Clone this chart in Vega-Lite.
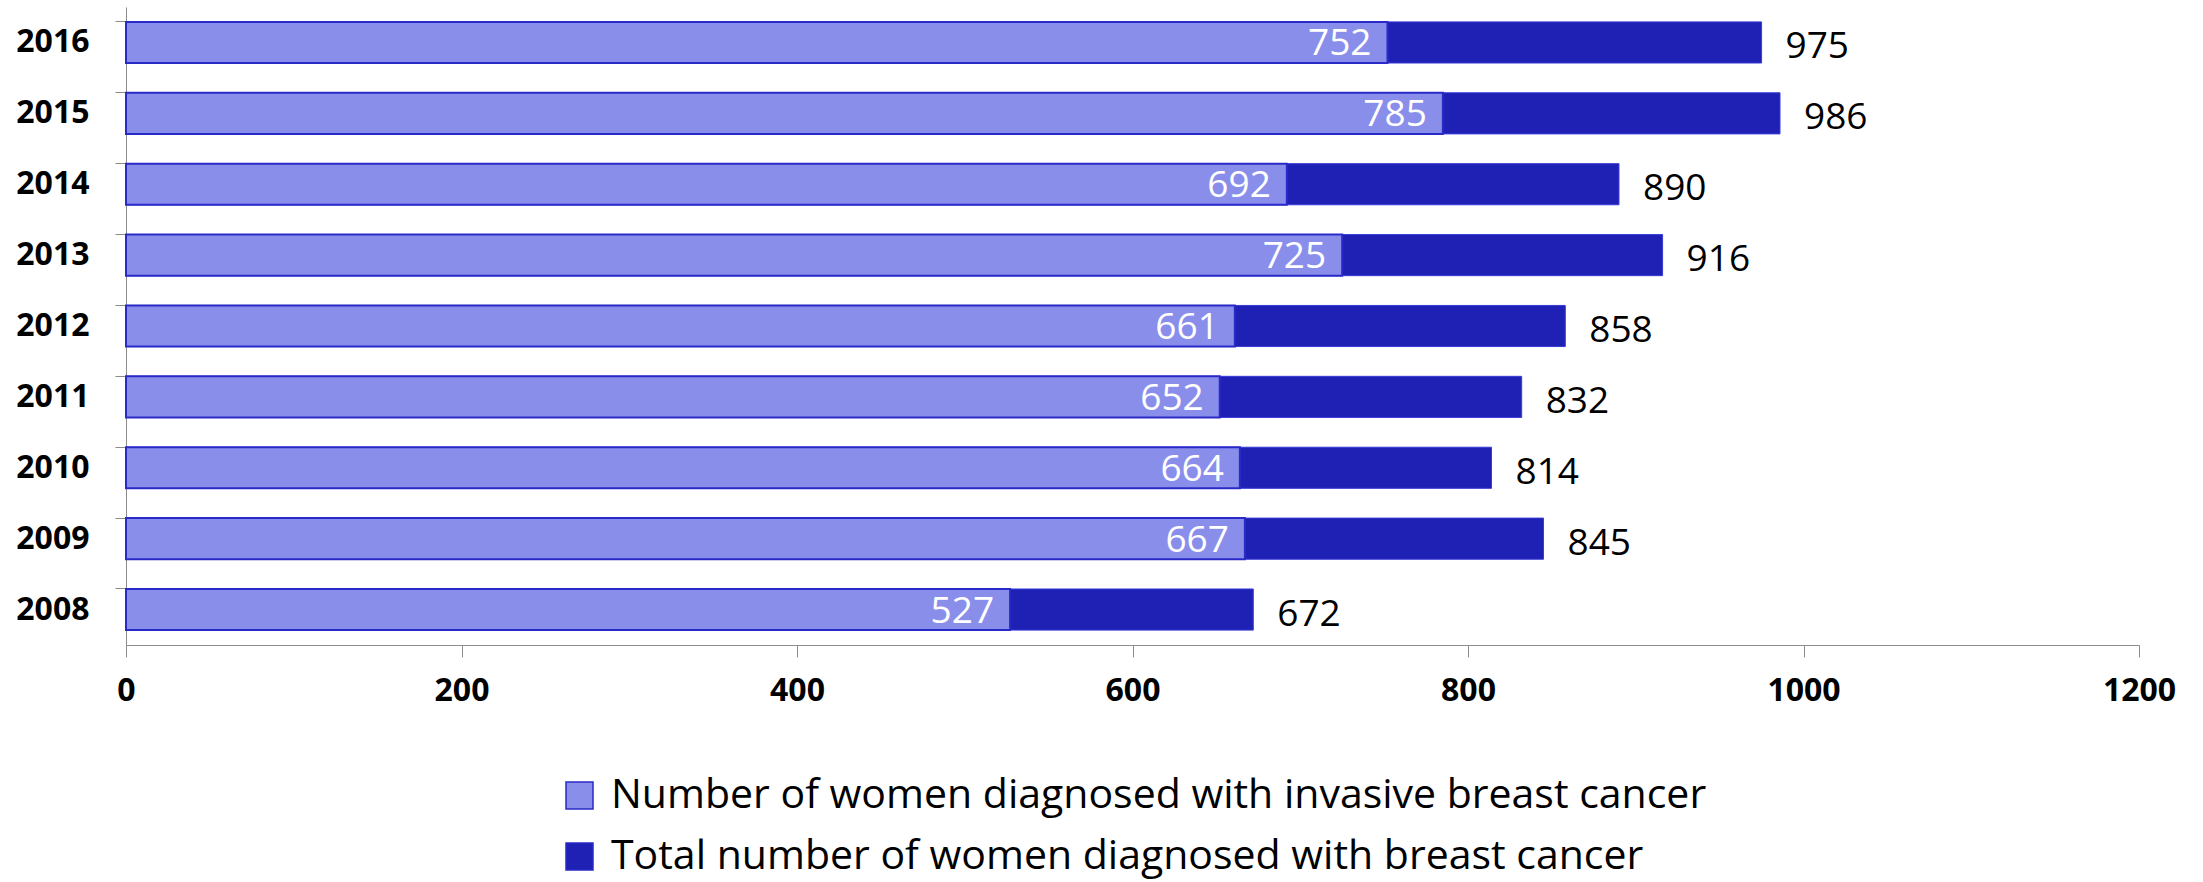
{
  "$schema": "https://vega.github.io/schema/vega-lite/v6.json",
  "width": 2013,
  "height": 638,
  "autosize": "none",
  "padding": {"left": 126, "top": 7, "right": 64, "bottom": 237},
  "background": "white",
  "config": {"view": {"stroke": null}, "font": "Open Sans"},
  "data": {
    "values": [
      {"year": "2016", "series": "Total number of women diagnosed with breast cancer", "value": 975},
      {"year": "2015", "series": "Total number of women diagnosed with breast cancer", "value": 986},
      {"year": "2014", "series": "Total number of women diagnosed with breast cancer", "value": 890},
      {"year": "2013", "series": "Total number of women diagnosed with breast cancer", "value": 916},
      {"year": "2012", "series": "Total number of women diagnosed with breast cancer", "value": 858},
      {"year": "2011", "series": "Total number of women diagnosed with breast cancer", "value": 832},
      {"year": "2010", "series": "Total number of women diagnosed with breast cancer", "value": 814},
      {"year": "2009", "series": "Total number of women diagnosed with breast cancer", "value": 845},
      {"year": "2008", "series": "Total number of women diagnosed with breast cancer", "value": 672},
      {"year": "2016", "series": "Number of women diagnosed with invasive breast cancer", "value": 752},
      {"year": "2015", "series": "Number of women diagnosed with invasive breast cancer", "value": 785},
      {"year": "2014", "series": "Number of women diagnosed with invasive breast cancer", "value": 692},
      {"year": "2013", "series": "Number of women diagnosed with invasive breast cancer", "value": 725},
      {"year": "2012", "series": "Number of women diagnosed with invasive breast cancer", "value": 661},
      {"year": "2011", "series": "Number of women diagnosed with invasive breast cancer", "value": 652},
      {"year": "2010", "series": "Number of women diagnosed with invasive breast cancer", "value": 664},
      {"year": "2009", "series": "Number of women diagnosed with invasive breast cancer", "value": 667},
      {"year": "2008", "series": "Number of women diagnosed with invasive breast cancer", "value": 527}
    ]
  },
  "encoding": {
    "y": {
      "field": "year", "type": "ordinal", "sort": "descending",
      "scale": {"paddingInner": 0.42, "paddingOuter": 0.21},
      "axis": {
        "title": null, "bandPosition": 0, "domainColor": "#8c8c8c", "tickColor": "#8c8c8c",
        "tickSize": 11, "labelPadding": 26, "labelFont": "Open Sans", "labelFontSize": 32,
        "labelFontWeight": "bold", "labelColor": "black"
      }
    },
    "x": {
      "field": "value", "type": "quantitative",
      "scale": {"domain": [0, 1200], "nice": false},
      "axis": {
        "title": null, "values": [0, 200, 400, 600, 800, 1000, 1200], "format": "d", "grid": false,
        "domainColor": "#8c8c8c", "tickColor": "#8c8c8c", "tickSize": 12, "labelPadding": 18,
        "labelFont": "Open Sans", "labelFontSize": 32, "labelFontWeight": "bold", "labelColor": "black",
        "labelFlush": false
      }
    }
  },
  "layer": [
    {
      "transform": [{"filter": "datum.series === 'Total number of women diagnosed with breast cancer'"}],
      "mark": {"type": "bar", "stroke": "#3a3ad8", "strokeWidth": 1},
      "encoding": {
        "color": {
          "field": "series", "type": "nominal",
          "scale": {
            "domain": ["Number of women diagnosed with invasive breast cancer", "Total number of women diagnosed with breast cancer"],
            "range": ["#8a8eeb", "#1f21b5"]
          },
          "legend": {
            "title": null, "orient": "none", "legendX": 433, "legendY": 768, "direction": "vertical",
            "symbolType": "square", "symbolSize": 729,
            "symbolStrokeColor": "#2a2ac8", "symbolStrokeWidth": 1.5,
            "labelFont": "Open Sans", "labelFontSize": 41, "labelColor": "black",
            "labelLimit": 2000, "labelOffset": 11, "rowPadding": 19, "padding": 0
          }
        }
      }
    },
    {
      "transform": [{"filter": "datum.series === 'Number of women diagnosed with invasive breast cancer'"}],
      "mark": {"type": "bar", "stroke": "#2a2ac8", "strokeWidth": 2},
      "encoding": {"color": {"field": "series", "type": "nominal"}}
    },
    {
      "transform": [{"filter": "datum.series === 'Number of women diagnosed with invasive breast cancer'"}],
      "mark": {"type": "text", "align": "right", "baseline": "middle", "dx": -16, "dy": 2, "color": "white", "font": "Open Sans", "fontSize": 37},
      "encoding": {"text": {"field": "value", "type": "quantitative"}}
    },
    {
      "transform": [{"filter": "datum.series === 'Total number of women diagnosed with breast cancer'"}],
      "mark": {"type": "text", "align": "left", "baseline": "middle", "dx": 24, "dy": 5, "color": "black", "font": "Open Sans", "fontSize": 37},
      "encoding": {"text": {"field": "value", "type": "quantitative"}}
    }
  ]
}
